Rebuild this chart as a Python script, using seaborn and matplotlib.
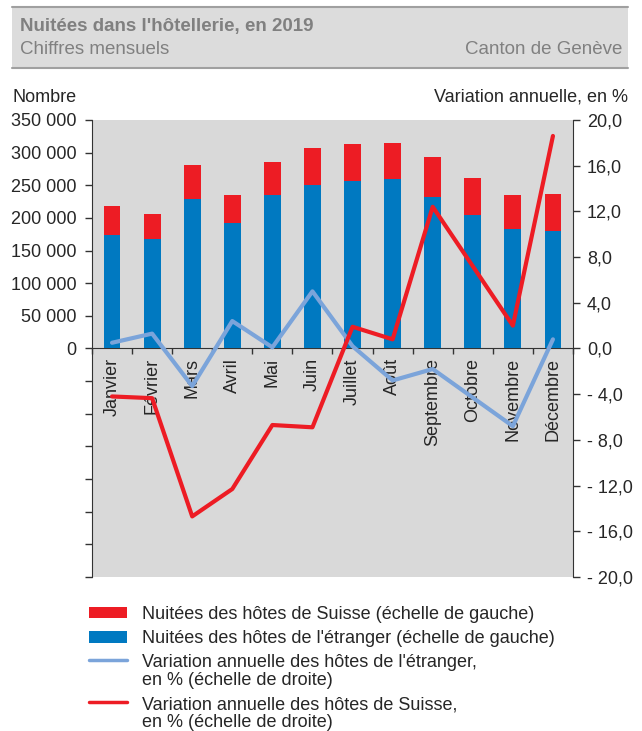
import numpy as np
import pandas as pd
import matplotlib.pyplot as plt
import seaborn as sns
from matplotlib.patches import Rectangle, Patch
from matplotlib.lines import Line2D
from matplotlib.ticker import FixedLocator, FuncFormatter

# Monthly data
months = ['Janvier', 'Février', 'Mars', 'Avril', 'Mai', 'Juin', 'Juillet',
          'Août', 'Septembre', 'Octobre', 'Novembre', 'Décembre']
total_nuitees = [218700, 206400, 281300, 235500, 285900, 307300, 313500,
                 315000, 293600, 261500, 235500, 237000]
etranger = [174300, 167200, 229400, 191600, 234500, 250800, 256900,
            258900, 232400, 204900, 183500, 180400]
var_etranger = [0.5, 1.3, -3.3, 2.4, 0.1, 5.0, 0.2, -2.8, -1.8, -4.3, -6.8, 0.8]
var_suisse = [-4.2, -4.35, -14.7, -12.3, -6.7, -6.9, 1.9, 0.8, 12.4, 7.2, 2.0, 18.6]

df = pd.DataFrame({'mois': months, 'total': total_nuitees, 'etranger': etranger,
                   'var_etr': var_etranger, 'var_ch': var_suisse})
df['suisse'] = df['total'] - df['etranger']
df['pos'] = np.arange(len(df))

RED = '#ED1C24'
BLUE = '#0079C1'
LBLUE = '#7BA4DA'
GREY_BG = '#D9D9D9'

sns.set_style('white')
plt.rcParams['font.family'] = ['Liberation Sans', 'DejaVu Sans']
plt.rcParams['font.size'] = 13

fig = plt.figure(figsize=(6.42, 7.31), dpi=100)

# header band
fig.patches.append(Rectangle((0.019, 0.907), 0.959, 0.084, transform=fig.transFigure,
                             facecolor='#DCDCDC', edgecolor='none', zorder=0))
for yy in (0.991, 0.907):
    fig.add_artist(Line2D([0.019, 0.978], [yy, yy], transform=fig.transFigure,
                          color='#A0A0A0', lw=1.5))
fig.text(0.031, 0.964, "Nuitées dans l'hôtellerie, en 2019", fontsize=13.5,
         fontweight='bold', color='#808080', va='center', ha='left')
fig.text(0.031, 0.932, 'Chiffres mensuels', fontsize=13.5, color='#808080',
         va='center', ha='left')
fig.text(0.970, 0.932, 'Canton de Genève', fontsize=13.5, color='#808080',
         va='center', ha='right')

ax = fig.add_axes([0.1433, 0.2107, 0.7492, 0.6252])
ax.set_facecolor(GREY_BG)

sns.barplot(data=df, x='mois', y='total', color=RED, width=0.42, ax=ax,
            saturation=1, edgecolor='none', linewidth=0, zorder=2)
sns.barplot(data=df, x='mois', y='etranger', color=BLUE, width=0.42, ax=ax,
            saturation=1, edgecolor='none', linewidth=0, zorder=3)

ax.set_xlim(-0.5, 11.5)
ax.set_ylim(-350000, 350000)
ax.set_xlabel('')
ax.set_ylabel('')

left_ticks = np.arange(-350000, 350001, 50000)
ax.yaxis.set_major_locator(FixedLocator(left_ticks))
ax.yaxis.set_major_formatter(FuncFormatter(
    lambda v, p: '' if v < 0 else f'{int(v):,}'.replace(',', ' ')))
ax.tick_params(axis='y', direction='out', length=5, width=1, color='#333333',
               pad=6, labelsize=13, left=True)

for s in ('top', 'right'):
    ax.spines[s].set_visible(False)
ax.spines['left'].set_color('#333333')
ax.spines['bottom'].set_position(('data', 0))
ax.spines['bottom'].set_color('#333333')
ax.set_xticks(df['pos'])
ax.set_xticklabels(months, rotation=90, va='top', ha='center')
ax.xaxis.set_minor_locator(FixedLocator(np.arange(-0.5, 12, 1)))
ax.tick_params(axis='x', which='major', length=0, pad=7, labelsize=13, bottom=True)
ax.tick_params(axis='x', which='minor', direction='out', length=4, width=1,
               color='#333333', bottom=True)

ax2 = ax.twinx()
sns.lineplot(data=df, x='pos', y='var_etr', color=LBLUE, lw=3, ax=ax2,
             sort=False, zorder=4)
sns.lineplot(data=df, x='pos', y='var_ch', color=RED, lw=3, ax=ax2,
             sort=False, zorder=5)
ax2.set_ylim(-20, 20)
ax2.set_xlim(-0.5, 11.5)
ax2.set_ylabel('')
ax2.set_xlabel('')
ax2.yaxis.set_major_locator(FixedLocator(np.arange(-20, 21, 4)))
ax2.yaxis.set_major_formatter(FuncFormatter(
    lambda v, p: (f'- {abs(v):.1f}' if v < 0 else f'{v:.1f}').replace('.', ',')))
ax2.tick_params(axis='y', direction='out', length=5, width=1, color='#333333',
                pad=5, labelsize=13, right=True)
for s in ('top', 'bottom', 'left'):
    ax2.spines[s].set_visible(False)
ax2.spines['right'].set_color('#333333')

fig.text(0.019, 0.867, 'Nombre', fontsize=13, va='center', ha='left')
fig.text(0.978, 0.867, 'Variation annuelle, en %', fontsize=13, va='center',
         ha='right')

handles = [Patch(facecolor=RED, edgecolor='none'),
           Patch(facecolor=BLUE, edgecolor='none'),
           Line2D([], [], color=LBLUE, lw=2.5),
           Line2D([], [], color=RED, lw=2.5)]
labels = ['Nuitées des hôtes de Suisse (échelle de gauche)',
          "Nuitées des hôtes de l'étranger (échelle de gauche)",
          "Variation annuelle des hôtes de l'étranger,\nen % (échelle de droite)",
          'Variation annuelle des hôtes de Suisse,\nen % (échelle de droite)']
leg = fig.legend(handles, labels, loc='upper left', bbox_to_anchor=(0.138, 0.171),
                 bbox_transform=fig.transFigure, frameon=False, fontsize=13,
                 handlelength=2.1, handleheight=0.6, handletextpad=0.85,
                 labelspacing=0.4, borderpad=0, borderaxespad=0)
for t in leg.get_texts():
    t.set_linespacing(1.05)
# put the line handles level with the first line of their two-line labels
for col in leg._legend_handle_box.get_children():
    for item in col.get_children()[2:]:
        item.align = 'top'

fig.savefig('out.png', dpi=100)
